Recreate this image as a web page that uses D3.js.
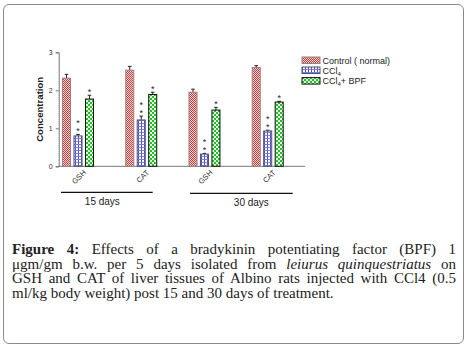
<!DOCTYPE html>
<html><head><meta charset="utf-8">
<script src="https://cdn.jsdelivr.net/npm/d3@7"></script>
<style>
body{margin:0;background:#fff;}
#card{position:absolute;left:3px;top:4px;width:459px;height:338px;border:1.3px solid #8a8a8a;border-radius:6px;}
#cap{position:absolute;left:12px;top:242px;width:444px;font-family:"Liberation Serif","Times New Roman",serif;font-size:15px;line-height:14.6px;color:#222;}
#cap div{text-align:justify;text-align-last:justify;white-space:nowrap;}
#cap div.last{text-align-last:left;}
svg{position:absolute;left:0;top:0;}
</style></head>
<body>
<div id="card"></div>
<svg id="chart" width="468" height="348"></svg>
<div id="cap">
<div><b>Figure 4:</b> Effects of a bradykinin potentiating factor (BPF) 1</div>
<div>μgm/gm b.w. per 5 days isolated from <i>leiurus quinquestriatus</i> on</div>
<div>GSH and CAT of liver tissues of Albino rats injected with CCl4 (0.5</div>
<div class="last">ml/kg body weight) post 15 and 30 days of treatment.</div>
</div>
<script>
const categories = ["GSH15","CAT15","GSH30","CAT30"];
const catLabels = ["GSH","CAT","GSH","CAT"];
const series = ["Control ( normal)","CCl4","CCl4+ BPF"];
const control = [2.32, 2.53, 1.95, 2.60];
const ccl4 = [0.80, 1.22, 0.32, 0.93];
const bpf = [1.77, 1.89, 1.48, 1.69];
const controlErr = [0.10, 0.10, 0.08, 0.05];
const ccl4Err = [0.04, 0.10, 0.02, 0.02];
const bpfErr = [0.10, 0.06, 0.07, 0.02];
const stars = [0, 2, 1]; // per series: number of stars
const yTicks = [0, 1, 2, 3];
const groups = [{label:"15 days", cats:["GSH15","CAT15"]},{label:"30 days", cats:["GSH30","CAT30"]}];

const svg = d3.select("#chart");
const y = d3.scaleLinear().domain([0,3]).range([166.3, 52.3]);
const x = d3.scalePoint().domain(categories).range([77, 266.7]);
const xs = d3.scaleBand().domain(series).range([-14.5, 16.5]).paddingInner(0.3);

const defs = svg.append("defs");
const p1 = defs.append("pattern").attr("id","pc").attr("patternUnits","userSpaceOnUse").attr("width",2).attr("height",2);
p1.append("rect").attr("width",2).attr("height",2).attr("fill","#f6dada");
p1.append("rect").attr("width",1).attr("height",1).attr("fill","#d23a3a");
p1.append("rect").attr("x",1).attr("y",1).attr("width",1).attr("height",1).attr("fill","#d23a3a");
const p2 = defs.append("pattern").attr("id","pb").attr("patternUnits","userSpaceOnUse").attr("width",3).attr("height",3);
p2.append("rect").attr("width",3).attr("height",3).attr("fill","#ffffff");
p2.append("rect").attr("width",1).attr("height",3).attr("fill","#4a4ad8");
p2.append("rect").attr("width",3).attr("height",1).attr("fill","#7a7ae0");
const p3 = defs.append("pattern").attr("id","pg").attr("patternUnits","userSpaceOnUse").attr("width",4).attr("height",4);
p3.append("rect").attr("width",4).attr("height",4).attr("fill","#e8f8e8");
p3.append("rect").attr("width",2).attr("height",2).attr("fill","#22c022");
p3.append("rect").attr("x",2).attr("y",2).attr("width",2).attr("height",2).attr("fill","#22c022");

const fills = ["url(#pc)","url(#pb)","url(#pg)"];
const strokes = ["#9a8080","#505070","#111"];
const vals = [control, ccl4, bpf];
const errs = [controlErr, ccl4Err, bpfErr];
const sans = "Arial, Liberation Sans, sans-serif";

const yAxis = d3.axisLeft(y).tickValues(yTicks).tickSize(3).tickFormat(d3.format("d"));
const gy = svg.append("g").attr("transform","translate(58.7,0)").call(yAxis);
gy.select(".domain").attr("stroke","#777");
gy.selectAll(".tick line").attr("stroke","#777");
gy.selectAll(".tick text").attr("font-family",sans).attr("font-size",7).attr("fill","#333");

svg.append("line").attr("x1",58.7).attr("x2",305).attr("y1",y(0)).attr("y2",y(0)).attr("stroke","#777").attr("stroke-width",1);

svg.append("text").attr("transform",`translate(43,${(y(0)+y(3))/2}) rotate(-90)`)
  .attr("text-anchor","middle").attr("font-family",sans)
  .attr("font-weight","bold").attr("font-size",9.6).attr("fill","#222").text("Concentration");

series.forEach((s,si)=>{
  const g = svg.append("g");
  categories.forEach((c,ci)=>{
    const bx = x(c)+xs(s), bw = xs.bandwidth(), v = vals[si][ci], e = errs[si][ci];
    const cx = bx + bw/2;
    g.append("line").attr("x1",cx).attr("x2",cx).attr("y1",y(v)).attr("y2",y(v+e)).attr("stroke","#222").attr("stroke-width",1);
    g.append("line").attr("x1",cx-1.8).attr("x2",cx+1.8).attr("y1",y(v+e)).attr("y2",y(v+e)).attr("stroke","#222").attr("stroke-width",1);
    g.append("rect").attr("x",bx).attr("y",y(v)).attr("width",bw).attr("height",y(0)-y(v))
      .attr("fill",fills[si]).attr("stroke",strokes[si]).attr("stroke-width",1);
    for(let k=0;k<stars[si];k++){
      g.append("text").attr("x",cx).attr("y",y(v+e)-5.5-k*8.5).attr("text-anchor","middle")
        .attr("font-family",sans).attr("font-size",9).attr("fill","#223")
        .text("*").attr("dy","0.6em");
    }
  });
});

categories.forEach((c,ci)=>{
  svg.append("text").attr("transform",`translate(${x(c)+9.5},${173}) rotate(-45)`)
    .attr("text-anchor","end").attr("font-family",sans)
    .attr("font-size",7.5).attr("fill","#333").text(catLabels[ci]);
});

const gLines = [[61,152.7,192.3],[190,292.7,193.3]];
groups.forEach((g,gi)=>{
  const [a,b,yy] = gLines[gi];
  svg.append("line").attr("x1",a).attr("x2",b).attr("y1",yy).attr("y2",yy).attr("stroke","#111").attr("stroke-width",1.2);
  svg.append("text").attr("x",(a+b)/2 + (gi===0?-4.5:10)).attr("y",yy+13).attr("text-anchor","middle")
    .attr("font-family",sans).attr("font-size",10).attr("fill","#222").text(g.label);
});

const leg = svg.append("g").attr("transform","translate(302,57)");
series.forEach((s,si)=>{
  const gy2 = [0, 10, 20.6][si];
  leg.append("rect").attr("x",0).attr("y",gy2).attr("width",18).attr("height",6.5)
    .attr("fill",fills[si]).attr("stroke",strokes[si]).attr("stroke-width",1);
  const t = leg.append("text").attr("x",20.5).attr("y",gy2+6.8)
    .attr("font-family",sans).attr("font-size",9).attr("fill","#222");
  if(si===0){ t.text(s); }
  else {
    t.append("tspan").text("CCl");
    t.append("tspan").attr("font-size",6).attr("dy",2).text("4");
    if(si===2) t.append("tspan").attr("dy",-2).text("+ BPF");
  }
});
</script>
</body></html>
